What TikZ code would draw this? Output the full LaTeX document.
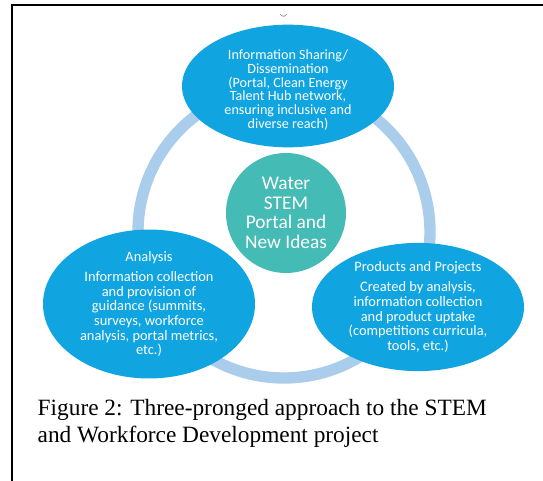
\documentclass[tikz,border=0pt]{standalone}
\usepackage{fontspec}
\usepackage{tikz}
\usetikzlibrary{shapes.geometric}
\setmainfont{Liberation Serif}
\newfontfamily\diagfont{Carlito}
\definecolor{ovalblue}{RGB}{16,165,224}
\definecolor{hubteal}{RGB}{69,187,181}
\definecolor{ringblue}{RGB}{169,205,235}

\begin{document}
\begin{tikzpicture}[x=0.75pt,y=-0.75pt,
    oval/.style={ellipse,fill=ovalblue,text=white,inner sep=0pt,minimum width=159pt,align=center,font=\diagfont\fontsize{10.8}{11}\selectfont},
    hub/.style={circle,fill=hubteal,text=white,inner sep=0pt,minimum size=90pt,align=center,font=\diagfont\fontsize{14.5}{14.6}\selectfont}]

    \useasboundingbox (0,0) rectangle (543,481);
    \draw [line width=1.5pt] (12,481) -- (12,5) -- (543,5);
    \draw [gray, line width=0.5pt] (280,14) .. controls (282,17) and (285,17) .. (287,14);

    % ring behind the three ovals
    \draw [ringblue, line width=8.5pt] (284,232) circle [radius=146];

    \node [oval, minimum height=92pt] (a) at (288,86) {};
    \node [text=white, align=center, inner sep=0pt, font=\diagfont\fontsize{10.6}{10.3}\selectfont] (at) at (288,90) {Information Sharing/\\Dissemination\\(Portal, Clean Energy\\Talent Hub network,\\ensuring inclusive and\\diverse reach)};
    \node [hub] (b) at (286,213) {Water\\STEM\\Portal and\\New Ideas};
    \node [oval, minimum height=88.5pt] (c) at (149,304) {Analysis\\[4pt]Information collection\\and provision of\\guidance (summits,\\surveys, workforce\\analysis, portal metrics,\\etc.)};
    \node [oval, minimum height=83pt] (d) at (418,307) {Products and Projects\\[4pt]Created by analysis,\\information collection\\and product uptake\\(competitions curricula,\\tools, etc.)};

    \node [anchor=base west, align=left, font=\fontsize{17.5}{20}\selectfont] (e) at (33,442) {Figure 2: Three-pronged approach to the STEM\\and Workforce Development project};

\end{tikzpicture}
\end{document}
